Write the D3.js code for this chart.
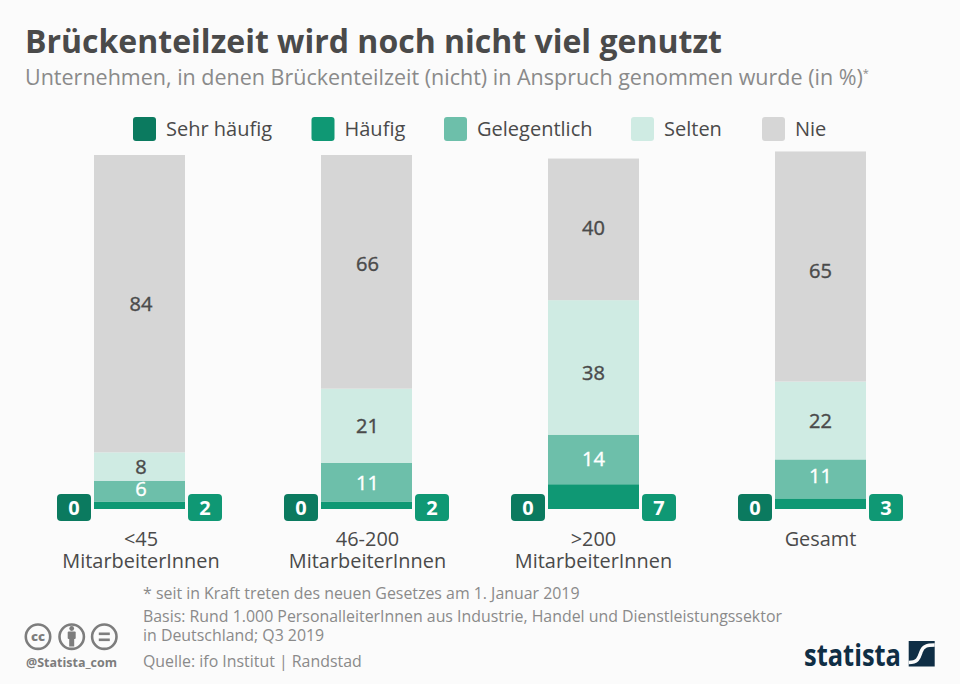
<!DOCTYPE html>
<html><head><meta charset="utf-8">
<script src="https://cdnjs.cloudflare.com/ajax/libs/d3/7.8.5/d3.min.js"></script>
<style>
html,body{margin:0;padding:0;background:#fbfbfb}
svg{display:block}
text{font-family:"Open Sans",sans-serif}
</style></head><body>
<svg id="c" width="960" height="684"></svg>
<script>
const categories = [["<45","MitarbeiterInnen"],["46-200","MitarbeiterInnen"],[">200","MitarbeiterInnen"],["Gesamt"]];
const seriesNames = ["Sehr häufig","Häufig","Gelegentlich","Selten","Nie"];
const sehrHaeufig = [0,0,0,0];
const haeufig = [2,2,7,3];
const gelegentlich = [6,11,14,11];
const selten = [8,21,38,22];
const nie = [84,66,40,65];
const seriesValues = [sehrHaeufig,haeufig,gelegentlich,selten,nie];
const colors = ["#0b7a5f","#0f9874","#6dbfaa","#cfebe3","#d6d6d6"];
const labelColors = [null,null,"#ffffff","#4a4a4a","#4a4a4a"];
const legendX = [133,311.5,444,631,762];
const catShift = [1.5,1,0,0];
const labelShift = [null,null,[-3,0,-1,-3],[0,0,5.5,0],[0,-8,-2,4]];
const footnotes = [
  ["* seit in Kraft treten des neuen Gesetzes am 1. Januar 2019",598.5],
  ["Basis: Rund 1.000 PersonalleiterInnen aus Industrie, Handel und Dienstleistungssektor",622],
  ["in Deutschland; Q3 2019",641],
  ["Quelle: ifo Institut | Randstad",667]];

const svg = d3.select("#c");
const idx = categories.map((d,i)=>i);
const x = d3.scaleBand().domain(idx).range([94,866]).paddingInner(136/227).paddingOuter(0);
const y = d3.scaleLinear().domain([0,100]).range([509,155]);

svg.append("text").attr("x",25).attr("y",52.5).attr("font-size",32).attr("font-weight",700).attr("fill","#4a4a4a").text("Brückenteilzeit wird noch nicht viel genutzt");
const st = svg.append("text").attr("x",25).attr("y",85).attr("font-size",21.5).attr("fill","#8a8a8a").text("Unternehmen, in denen Brückenteilzeit (nicht) in Anspruch genommen wurde (in %)");
st.append("tspan").attr("font-size",11).attr("dy",-8).text("*");

// legend
seriesNames.forEach((n,i)=>{
  svg.append("rect").attr("x",legendX[i]).attr("y",117).attr("width",23).attr("height",24).attr("rx",3).attr("fill",colors[i]);
  svg.append("text").attr("x",legendX[i]+33).attr("y",136).attr("font-size",20).attr("fill","#4a4a4a").text(n);
});

// stacks
const stackData = idx.map(i=>{const o={i};seriesNames.forEach((n,s)=>o[s]=seriesValues[s][i]);return o;});
const stacked = d3.stack().keys(d3.range(seriesNames.length))(stackData);
stacked.forEach((layer,s)=>{
  const g = svg.append("g");
  g.selectAll("rect").data(layer).join("rect")
    .attr("x",d=>x(d.data.i)).attr("width",x.bandwidth())
    .attr("y",d=>y(d[1])).attr("height",d=>y(d[0])-y(d[1]))
    .attr("fill",colors[s]);
  if(labelColors[s]) g.selectAll("text").data(layer).join("text")
    .attr("x",d=>x(d.data.i)+x.bandwidth()/2+catShift[d.data.i])
    .attr("y",d=>(y(d[0])+y(d[1]))/2+7.5+labelShift[s][d.data.i])
    .attr("text-anchor","middle").attr("font-size",20).attr("font-weight",400)
    .attr("stroke",labelColors[s]).attr("stroke-width",0.4)
    .attr("fill",labelColors[s]).text(d=>d[1]-d[0]);
});

// outside badges
function badge(vals,color,dx){
  const g = svg.append("g");
  g.selectAll("rect").data(idx).join("rect")
    .attr("x",i=>x(i)+dx).attr("y",494).attr("width",34).attr("height",27).attr("rx",4).attr("fill",color);
  g.selectAll("text").data(idx).join("text")
    .attr("x",i=>x(i)+dx+17).attr("y",514.5).attr("text-anchor","middle")
    .attr("font-size",20).attr("font-weight",700).attr("fill","#fff").text(i=>vals[i]);
}
badge(sehrHaeufig,colors[0],-37);
badge(haeufig,colors[1],94);

// category labels
categories.forEach((c,i)=>{
  c.forEach((t,k)=>{
    svg.append("text").attr("x",x(i)+x.bandwidth()/2+catShift[i]).attr("y",546+k*22)
      .attr("text-anchor","middle").attr("font-size",19.9).attr("fill","#4a4a4a").text(t);
  });
});

// notes
footnotes.forEach(([t,yy])=>svg.append("text").attr("x",143).attr("y",yy).attr("font-size",15.9).attr("fill","#8a8a8a").text(t));

// cc icons
const grey = "#7d7d7d";
const ic = svg.append("g").attr("fill","none").attr("stroke",grey).attr("stroke-width",2.6);
[38,71.7,104.3].forEach(cx=>ic.append("circle").attr("cx",cx).attr("cy",636.7).attr("r",12.2));
svg.append("text").attr("x",38).attr("y",641).attr("text-anchor","middle").attr("font-size",13).attr("font-weight",800).attr("fill",grey).text("cc");
svg.append("circle").attr("cx",71.7).attr("cy",628.5).attr("r",2.4).attr("fill",grey);
svg.append("rect").attr("x",67.7).attr("y",631.5).attr("width",8).attr("height",7.5).attr("rx",1).attr("fill",grey);
svg.append("rect").attr("x",69.2).attr("y",637).attr("width",5).attr("height",9.5).attr("fill",grey);
svg.append("rect").attr("x",98.8).attr("y",632.5).attr("width",11).attr("height",2.6).attr("fill",grey);
svg.append("rect").attr("x",98.8).attr("y",638.5).attr("width",11).attr("height",2.6).attr("fill",grey);
svg.append("text").attr("x",26).attr("y",666.5).attr("font-size",12.5).attr("font-weight",700).attr("fill",grey).attr("textLength",91).text("@Statista_com");

// logo
svg.append("text").attr("x",804).attr("y",666).attr("font-size",31).attr("font-weight",700).attr("fill","#0f2e45").attr("textLength",97).attr("lengthAdjust","spacingAndGlyphs").text("statista");
svg.append("rect").attr("x",908.7).attr("y",641).attr("width",26).attr("height",25.5).attr("fill","#0f2e45");
svg.append("path").attr("d","M908.7 662.5C918 662.5 919 658 921 652C923 646 927 645 934.7 645").attr("fill","none").attr("stroke","#fbfbfb").attr("stroke-width",3.5);
</script>
</body></html>
